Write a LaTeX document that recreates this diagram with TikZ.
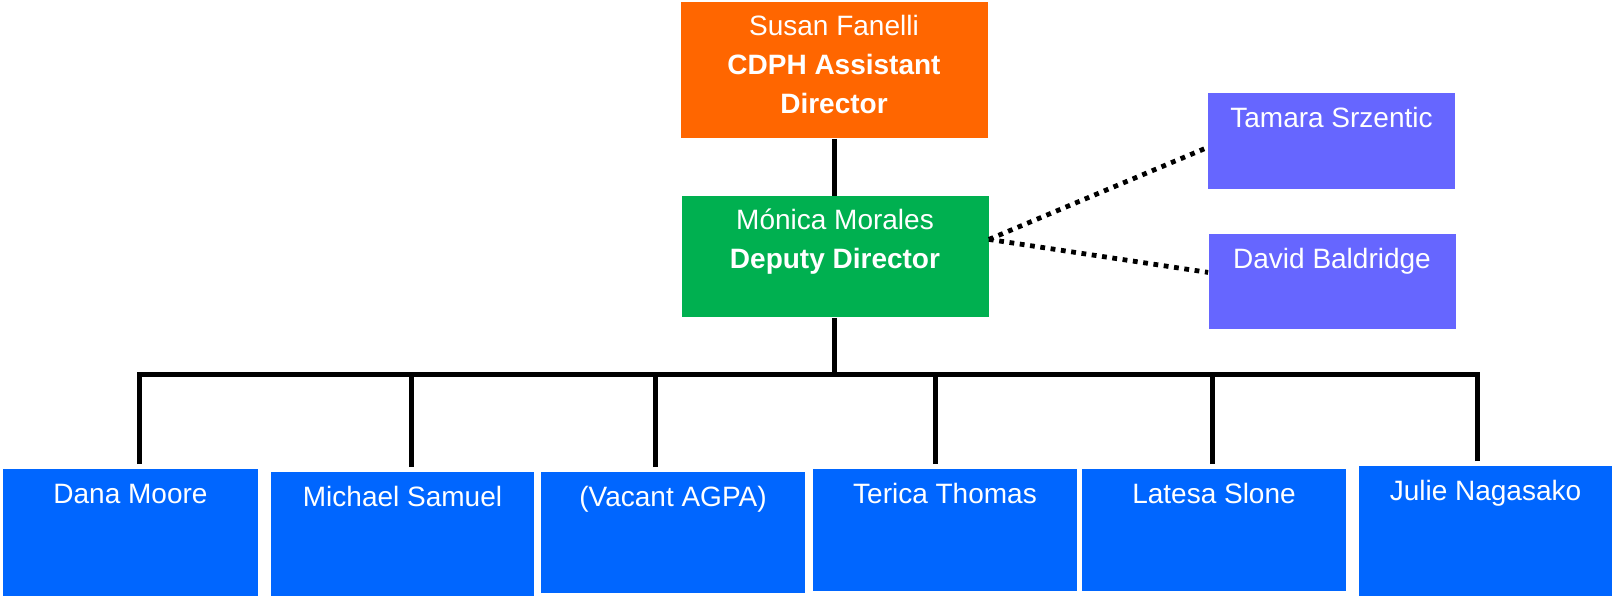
\documentclass[tikz,border=0pt]{standalone}
\usepackage{fontspec}
\setmainfont{Liberation Sans}
\definecolor{sueorange}{RGB}{255,102,0}
\definecolor{deputygreen}{RGB}{0,176,80}
\definecolor{liaisonpurple}{RGB}{102,102,255}
\definecolor{staffblue}{RGB}{0,102,255}
\begin{document}
\begin{tikzpicture}[x=0.5pt,y=-0.5pt,
    every node/.style={anchor=north,align=center,text=white,inner sep=0pt,
      font=\fontsize{14}{19.5}\selectfont,text height=17pt},
    staff/.style={fill=staffblue,minimum width=132pt},
    liaison/.style={fill=liaisonpurple,minimum width=123.5pt},
    link/.style={line width=2.5pt},
    dotline/.style={line width=2.4pt,dash pattern=on 2.4pt off 2.8pt}]
  \useasboundingbox (0,0) rectangle (1612,596);
  \node[fill=sueorange,minimum width=153.5pt,text height=55.5pt,text depth=12.5pt] (sue) at (834,2)
    {Susan Fanelli\\\textbf{CDPH Assistant}\\\textbf{Director}};
  \node[fill=deputygreen,minimum width=153.5pt,text height=36pt,text depth=24.5pt] (monica) at (835,196)
    {Mónica Morales\\\textbf{Deputy Director}};
  \node[liaison,text depth=31pt] (tamara) at (1331.5,93) {Tamara Srzentic};
  \node[liaison,text depth=30.5pt] (david) at (1332,234) {David Baldridge};
  \node[staff,minimum width=127.5pt,text depth=46.5pt] (dana) at (130.5,469) {Dana Moore};
  \node[staff,minimum width=131.5pt,text depth=45pt] (michael) at (402.5,472) {Michael Samuel};
  \node[staff,text depth=43.5pt] (vacant) at (673,472) {(Vacant AGPA)};
  \node[staff,text depth=44pt] (terica) at (945,469) {Terica Thomas};
  \node[staff,text depth=44pt] (latesa) at (1214,469) {Latesa Slone};
  \node[staff,minimum width=126.5pt,text depth=48pt] (julie) at (1485.5,466) {Julie Nagasako};
  \coordinate (bus) at (834,374);
  \draw[link] (sue.south) -- (monica.north -| sue.south);
  \draw[link] (monica.south -| bus) -- (bus);
  \foreach \who/\dx in {dana/4.25,michael/4.25,vacant/-9,terica/-5,latesa/-1,julie/-4.25}
    \draw[link] ([xshift=\dx pt,yshift=2.5pt]\who.north) |- (bus);
  \draw[dotline] ([yshift=8.75pt]monica.east) -- ([yshift=-3pt]tamara.west);
  \draw[dotline] ([yshift=8.75pt]monica.east) -- ([yshift=4.75pt]david.west);
\end{tikzpicture}
\end{document}
